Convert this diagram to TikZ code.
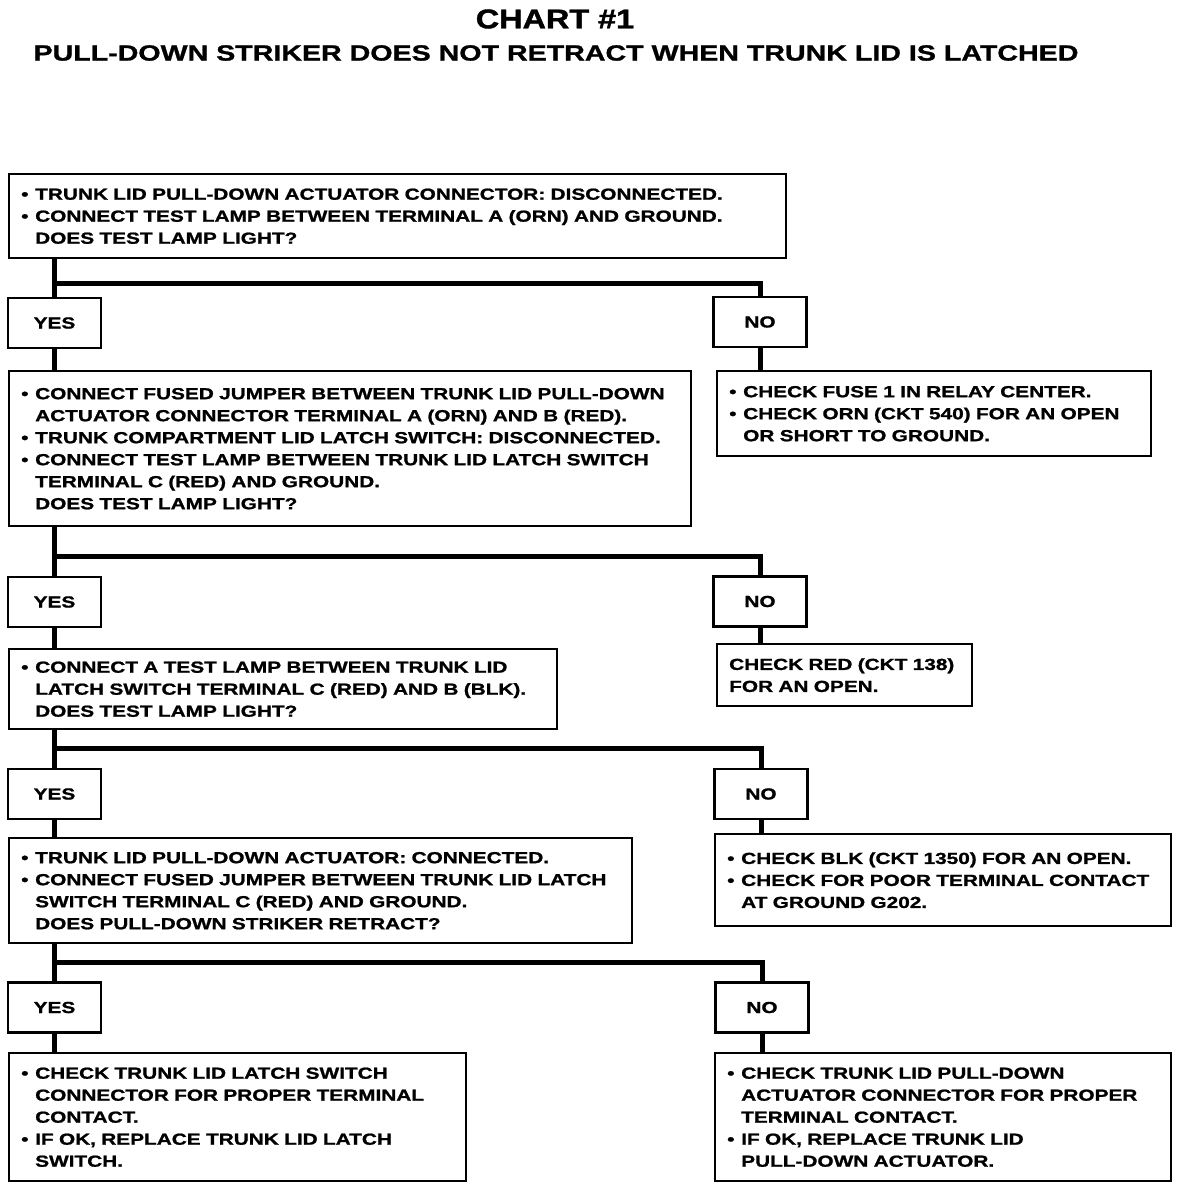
\documentclass[tikz,border=0pt]{standalone}
\usepackage{fontspec}
\newfontfamily\cf{Liberation Sans}[FakeStretch=1.3,FakeBold=1.2]
\newfontfamily\tf{Liberation Sans}[FakeStretch=1.2,FakeBold=1.5]
\newcommand\bul{\textbullet\hspace{0.42em}}
\newcommand\ind{\phantom{\textbullet}\hspace{0.42em}}
\begin{document}
\begin{tikzpicture}[x=1pt,y=-1pt,
  box/.style={draw, line width=2.4pt, inner xsep=12pt, inner ysep=0pt, align=left,
    anchor=north west, font=\cf\bfseries\fontsize{16}{22}\selectfont},
  ans/.style={draw, line width=2.4pt, minimum width=93pt, minimum height=50pt,
    inner sep=0pt, font=\cf\bfseries\fontsize{16}{22}\selectfont},
  conn/.style={line width=5pt}]
\useasboundingbox (0,0) rectangle (1184,1190);

\node[font=\tf\bfseries\fontsize{27}{30}\selectfont] (title) at (555,19) {CHART \#1};
\node[font=\cf\bfseries\fontsize{22}{26}\selectfont] (sub) at (556,53) {PULL-DOWN STRIKER DOES NOT RETRACT WHEN TRUNK LID IS LATCHED};

% boxes
\node[box, text width=753pt, minimum height=84pt] (b1) at (8,173) {%
\bul TRUNK LID PULL-DOWN ACTUATOR CONNECTOR: DISCONNECTED.\\
\bul CONNECT TEST LAMP BETWEEN TERMINAL A (ORN) AND GROUND.\\
\ind DOES TEST LAMP LIGHT?};

\node[ans] (yes1) at (54.5,323) {YES};
\node[ans] (no1) at (760,322) {NO};

\node[box, text width=658pt, minimum height=155pt] (b2) at (8,370) {%
\bul CONNECT FUSED JUMPER BETWEEN TRUNK LID PULL-DOWN\\
\ind ACTUATOR CONNECTOR TERMINAL A (ORN) AND B (RED).\\
\bul TRUNK COMPARTMENT LID LATCH SWITCH: DISCONNECTED.\\
\bul CONNECT TEST LAMP BETWEEN TRUNK LID LATCH SWITCH\\
\ind TERMINAL C (RED) AND GROUND.\\
\ind DOES TEST LAMP LIGHT?};

\node[box, text width=410pt, minimum height=85pt] (r1) at (716,370) {%
\bul CHECK FUSE 1 IN RELAY CENTER.\\
\bul CHECK ORN (CKT 540) FOR AN OPEN\\
\ind OR SHORT TO GROUND.};

\node[ans] (yes2) at (54.5,602) {YES};
\node[ans] (no2) at (760,601.5) {NO};

\node[box, text width=524pt, minimum height=80pt] (b3) at (8,648) {%
\bul CONNECT A TEST LAMP BETWEEN TRUNK LID\\
\ind LATCH SWITCH TERMINAL C (RED) AND B (BLK).\\
\ind DOES TEST LAMP LIGHT?};

\node[box, text width=231pt, minimum height=62pt] (r2) at (716,643) {%
CHECK RED (CKT 138)\\
FOR AN OPEN.};

\node[ans] (yes3) at (54.5,794) {YES};
\node[ans] (no3) at (761,794) {NO};

\node[box, text width=599pt, minimum height=105pt] (b4) at (8,837) {%
\bul TRUNK LID PULL-DOWN ACTUATOR: CONNECTED.\\
\bul CONNECT FUSED JUMPER BETWEEN TRUNK LID LATCH\\
\ind SWITCH TERMINAL C (RED) AND GROUND.\\
\ind DOES PULL-DOWN STRIKER RETRACT?};

\node[box, text width=432pt, minimum height=92pt] (r3) at (714,833) {%
\bul CHECK BLK (CKT 1350) FOR AN OPEN.\\
\bul CHECK FOR POOR TERMINAL CONTACT\\
\ind AT GROUND G202.};

\node[ans] (yes4) at (54.5,1007.5) {YES};
\node[ans] (no4) at (762,1007.5) {NO};

\node[box, text width=433pt, minimum height=128pt] (b5) at (8,1052) {%
\bul CHECK TRUNK LID LATCH SWITCH\\
\ind CONNECTOR FOR PROPER TERMINAL\\
\ind CONTACT.\\
\bul IF OK, REPLACE TRUNK LID LATCH\\
\ind SWITCH.};

\node[box, text width=432pt, minimum height=128pt] (r4) at (714,1052) {%
\bul CHECK TRUNK LID PULL-DOWN\\
\ind ACTUATOR CONNECTOR FOR PROPER\\
\ind TERMINAL CONTACT.\\
\bul IF OK, REPLACE TRUNK LID\\
\ind PULL-DOWN ACTUATOR.};

% junctions
\coordinate (j1) at (55,283);
\coordinate (j2) at (55,556);
\coordinate (j3) at (55,748);
\coordinate (j4) at (55,962);

% connectors
\draw[conn] (b1.south -| yes1.north) -- (yes1.north);
\draw[conn] (j1) -| (no1.north);
\draw[conn] (yes1.south) -- (b2.north -| yes1.south);
\draw[conn] (no1.south) -- (r1.north -| no1.south);

\draw[conn] (b2.south -| yes2.north) -- (yes2.north);
\draw[conn] (j2) -| (no2.north);
\draw[conn] (yes2.south) -- (b3.north -| yes2.south);
\draw[conn] (no2.south) -- (r2.north -| no2.south);

\draw[conn] (b3.south -| yes3.north) -- (yes3.north);
\draw[conn] (j3) -| (no3.north);
\draw[conn] (yes3.south) -- (b4.north -| yes3.south);
\draw[conn] (no3.south) -- (r3.north -| no3.south);

\draw[conn] (b4.south -| yes4.north) -- (yes4.north);
\draw[conn] (j4) -| (no4.north);
\draw[conn] (yes4.south) -- (b5.north -| yes4.south);
\draw[conn] (no4.south) -- (r4.north -| no4.south);
\end{tikzpicture}
\end{document}
